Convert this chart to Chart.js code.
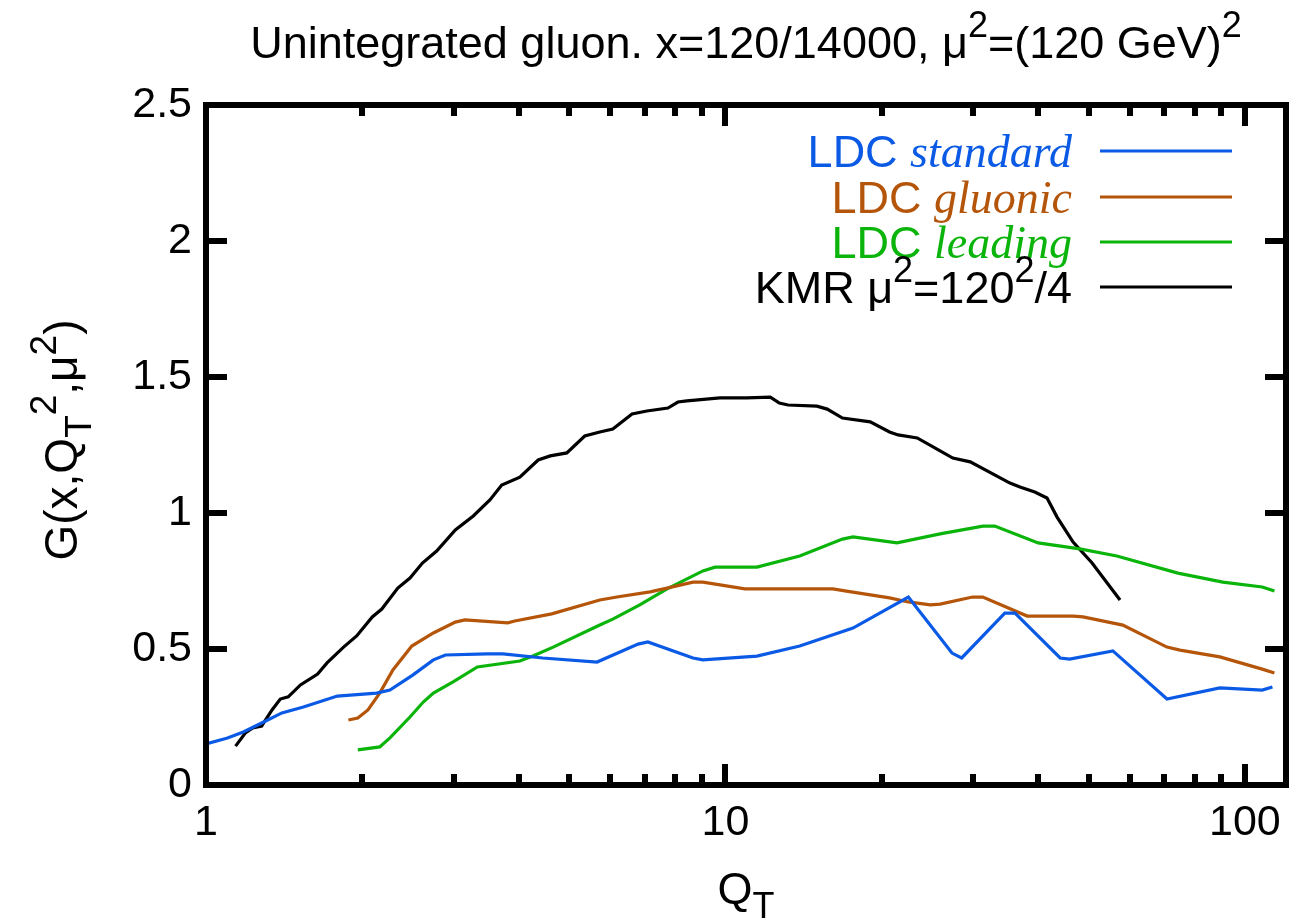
<!DOCTYPE html>
<html>
<head>
<meta charset="utf-8">
<title>Unintegrated gluon</title>
<script src="https://cdn.jsdelivr.net/npm/chart.js@4.4.1/dist/chart.umd.min.js"></script>
<style>
  html, body { margin: 0; padding: 0; background: #ffffff; }
  #wrap { width: 1289px; height: 923px; }
</style>
</head>
<body>
<div id="wrap"><canvas id="gluonChart" width="1289" height="923"></canvas></div>
<script>
// values (Q_T in GeV, G dimensionless)
const qStandard = [1.0, 1.10, 1.18, 1.28, 1.40, 1.54, 1.79, 2.13, 2.26, 2.50, 2.74, 2.89, 3.48, 3.73, 4.45, 5.66, 6.79, 7.09, 8.66, 9.05, 11.5, 13.9, 17.6, 22.5, 27.3, 28.5, 34.5, 36.1, 44.1, 46.0, 55.7, 70.8, 89.5, 108, 113];
const gStandard = [0.151, 0.173, 0.195, 0.228, 0.265, 0.287, 0.327, 0.338, 0.349, 0.404, 0.460, 0.478, 0.482, 0.482, 0.467, 0.452, 0.518, 0.526, 0.467, 0.460, 0.474, 0.511, 0.577, 0.691, 0.485, 0.467, 0.632, 0.632, 0.467, 0.463, 0.493, 0.316, 0.357, 0.349, 0.360];

const qGluonic = [1.88, 1.96, 2.05, 2.16, 2.29, 2.49, 2.74, 3.02, 3.15, 3.81, 3.93, 4.63, 5.73, 6.18, 7.16, 7.72, 8.66, 9.05, 10.9, 13.3, 16.1, 17.1, 20.7, 22.5, 24.8, 25.9, 29.9, 31.3, 38.1, 46.7, 48.8, 58.2, 70.8, 75.0, 89.5, 108, 114];
const gGluonic = [0.239, 0.246, 0.276, 0.338, 0.423, 0.511, 0.559, 0.599, 0.607, 0.596, 0.603, 0.629, 0.680, 0.691, 0.710, 0.724, 0.746, 0.746, 0.721, 0.721, 0.721, 0.713, 0.688, 0.673, 0.662, 0.665, 0.691, 0.691, 0.621, 0.621, 0.618, 0.588, 0.507, 0.496, 0.471, 0.426, 0.412];

const qLeading = [1.96, 2.16, 2.26, 2.47, 2.62, 2.74, 2.99, 3.33, 4.02, 4.26, 4.66, 5.73, 6.07, 6.84, 7.72, 9.05, 9.55, 11.5, 13.9, 16.8, 17.6, 21.4, 25.9, 31.3, 33.0, 40.0, 48.1, 56.7, 74.3, 90.7, 108, 114];
const gLeading = [0.129, 0.140, 0.173, 0.250, 0.305, 0.338, 0.379, 0.434, 0.456, 0.474, 0.507, 0.588, 0.610, 0.662, 0.721, 0.787, 0.801, 0.801, 0.842, 0.904, 0.912, 0.890, 0.923, 0.952, 0.952, 0.890, 0.868, 0.842, 0.779, 0.746, 0.728, 0.713];

const qKmr = [1.14, 1.19, 1.23, 1.28, 1.34, 1.39, 1.44, 1.52, 1.64, 1.71, 1.84, 1.95, 2.09, 2.18, 2.34, 2.47, 2.61, 2.78, 3.02, 3.27, 3.52, 3.71, 4.02, 4.36, 4.60, 4.95, 5.36, 5.73, 6.07, 6.61, 7.06, 7.75, 8.10, 8.43, 9.76, 11.0, 12.2, 12.7, 13.2, 15.0, 15.7, 16.8, 19.0, 20.7, 21.5, 23.4, 25.9, 27.4, 29.6, 35.3, 36.9, 39.4, 41.6, 43.5, 46.7, 50.8, 57.5];
const gKmr = [0.143, 0.191, 0.210, 0.217, 0.276, 0.316, 0.324, 0.368, 0.408, 0.449, 0.507, 0.548, 0.618, 0.647, 0.724, 0.761, 0.816, 0.860, 0.938, 0.989, 1.048, 1.103, 1.132, 1.195, 1.210, 1.221, 1.283, 1.298, 1.309, 1.364, 1.375, 1.386, 1.408, 1.412, 1.423, 1.423, 1.426, 1.404, 1.397, 1.393, 1.382, 1.349, 1.335, 1.298, 1.287, 1.276, 1.228, 1.202, 1.188, 1.110, 1.096, 1.077, 1.055, 0.985, 0.893, 0.816, 0.680];

const xLabelled = [1, 10, 100];
const yTickValues = [0, 0.5, 1, 1.5, 2, 2.5];

// rich text pieces: [text, kind]  kind: "n" sans, "it" serif italic, "sup", "sub"
const titleParts = [["Unintegrated gluon. x=120/14000, μ", "n"], ["2", "sup"], ["=(120 GeV)", "n"], ["2", "sup"]];
const yTitleParts = [["G(x,Q", "n"], ["T", "sub"], ["2", "sup"], [",μ", "n"], ["2", "sup"], [")", "n"]];
const xTitleParts = [["Q", "n"], ["T", "sub"]];
const legendParts = [
  [["LDC ", "n"], ["standard", "it"]],
  [["LDC ", "n"], ["gluonic", "it"]],
  [["LDC ", "n"], ["leading", "it"]],
  [["KMR μ", "n"], ["2", "sup"], ["=120", "n"], ["2", "sup"], ["/4", "n"]],
];

const FONT = '"Liberation Sans", Arial, sans-serif';
const TICK_SIZE = 43;
const TEXT_SIZE = 45;

function toPoints(xs, ys) {
  return xs.map((x, i) => ({ x, y: ys[i] }));
}

function partFont(kind, size) {
  if (kind === "it") return `italic ${size + 1}px "Liberation Serif", serif`;
  if (kind === "sup" || kind === "sub") return `${Math.round(size * 0.8)}px ${FONT}`;
  return `${size}px ${FONT}`;
}

function layoutRich(ctx, parts, size) {
  let x = 0;
  const items = parts.map(([text, kind]) => {
    ctx.font = partFont(kind, size);
    const w = ctx.measureText(text).width;
    let dy = 0;
    if (kind === "sup") dy = -0.46 * size;
    if (kind === "sub") dy = 0.3 * size;
    const start = x;
    x += w;
    return { text, kind, start, dy };
  });
  return { items, width: x };
}

function drawRich(ctx, parts, x, y, size, align, color) {
  const { items, width } = layoutRich(ctx, parts, size);
  let x0 = x;
  if (align === "center") x0 = x - width / 2;
  if (align === "right") x0 = x - width;
  ctx.save();
  ctx.fillStyle = color || "#000";
  ctx.textBaseline = "alphabetic";
  ctx.textAlign = "left";
  items.forEach((it) => {
    ctx.font = partFont(it.kind, size);
    ctx.fillText(it.text, x0 + it.start, y + it.dy);
  });
  ctx.restore();
}

const framePlugin = {
  id: "gnuplotFrame",
  afterDatasetsDraw(chart) {
    const { ctx, chartArea: a, scales } = chart;
    ctx.save();
    ctx.strokeStyle = "#000";
    ctx.lineWidth = 6;
    ctx.lineCap = "butt";
    ctx.beginPath();
    scales.x.ticks.forEach((t) => {
      const v = t.value;
      const mant = v / Math.pow(10, Math.floor(Math.log10(v) + 1e-9));
      if (Math.abs(mant - Math.round(mant)) > 1e-6) return;
      const px = Math.round(scales.x.getPixelForValue(v));
      const len = xLabelled.includes(v) ? 21 : 11;
      ctx.moveTo(px, a.bottom);
      ctx.lineTo(px, a.bottom - len);
      ctx.moveTo(px, a.top);
      ctx.lineTo(px, a.top + len);
    });
    scales.y.ticks.forEach((t) => {
      const py = Math.round(scales.y.getPixelForValue(t.value));
      ctx.moveTo(a.left, py);
      ctx.lineTo(a.left + 21, py);
      ctx.moveTo(a.right, py);
      ctx.lineTo(a.right - 21, py);
    });
    ctx.stroke();
    ctx.strokeRect(a.left, a.top, a.right - a.left, a.bottom - a.top);

    // legend, top right inside the frame
    const rowY = [151, 197, 242, 287];
    chart.data.datasets.forEach((ds, i) => {
      const y = rowY[i];
      drawRich(ctx, legendParts[i], 1072, y + 16, TEXT_SIZE, "right", ds.borderColor);
      ctx.strokeStyle = ds.borderColor;
      ctx.lineWidth = 3;
      ctx.beginPath();
      ctx.moveTo(1100, y);
      ctx.lineTo(1232, y);
      ctx.stroke();
    });

    // titles
    const cx = (a.left + a.right) / 2;
    drawRich(ctx, titleParts, cx, 58, TEXT_SIZE, "center");
    drawRich(ctx, xTitleParts, cx, 904, TEXT_SIZE, "center");
    ctx.translate(77, 440);
    ctx.rotate(-Math.PI / 2);
    drawRich(ctx, yTitleParts, 0, 0, 46, "center");
    ctx.restore();
  },
};

const series = [
  { label: "LDC standard", xs: qStandard, ys: gStandard, color: "#0a5ae6" },
  { label: "LDC gluonic", xs: qGluonic, ys: gGluonic, color: "#b4550a" },
  { label: "LDC leading", xs: qLeading, ys: gLeading, color: "#0ab40a" },
  { label: "KMR mu^2=120^2/4", xs: qKmr, ys: gKmr, color: "#000000" },
];

const chart = new Chart(document.getElementById("gluonChart"), {
  type: "line",
  data: {
    datasets: series.map((s) => ({
      label: s.label,
      data: toPoints(s.xs, s.ys),
      borderColor: s.color,
      backgroundColor: s.color,
      borderWidth: 3.2,
      pointRadius: 0,
      tension: 0,
      fill: false,
    })),
  },
  options: {
    responsive: false,
    animation: false,
    layout: { padding: { left: 0, right: 3, top: 105, bottom: 0 } },
    plugins: { legend: { display: false }, title: { display: false }, tooltip: { enabled: false } },
    scales: {
      x: {
        type: "logarithmic",
        min: 1,
        max: 120,
        grid: { display: false, drawTicks: false },
        border: { display: false },
        afterFit: (scale) => {
          scale.height = 138;
          scale.paddingLeft = 0;
          scale.paddingRight = 0;
        },
        ticks: {
          color: "#000",
          font: { family: FONT, size: TICK_SIZE },
          padding: 12,
          maxRotation: 0,
          autoSkip: false,
          callback: (value) => (xLabelled.includes(value) ? String(value) : ""),
        },
      },
      y: {
        min: 0,
        max: 2.5,
        grid: { display: false, drawTicks: false },
        border: { display: false },
        afterFit: (scale) => {
          scale.width = 206;
          scale.paddingTop = 0;
          scale.paddingBottom = 0;
        },
        afterBuildTicks: (scale) => { scale.ticks = yTickValues.map((v) => ({ value: v })); },
        ticks: {
          color: "#000",
          font: { family: FONT, size: TICK_SIZE },
          padding: 14,
          callback: (value) => String(value),
        },
      },
    },
  },
  plugins: [framePlugin],
});
</script>
</body>
</html>
